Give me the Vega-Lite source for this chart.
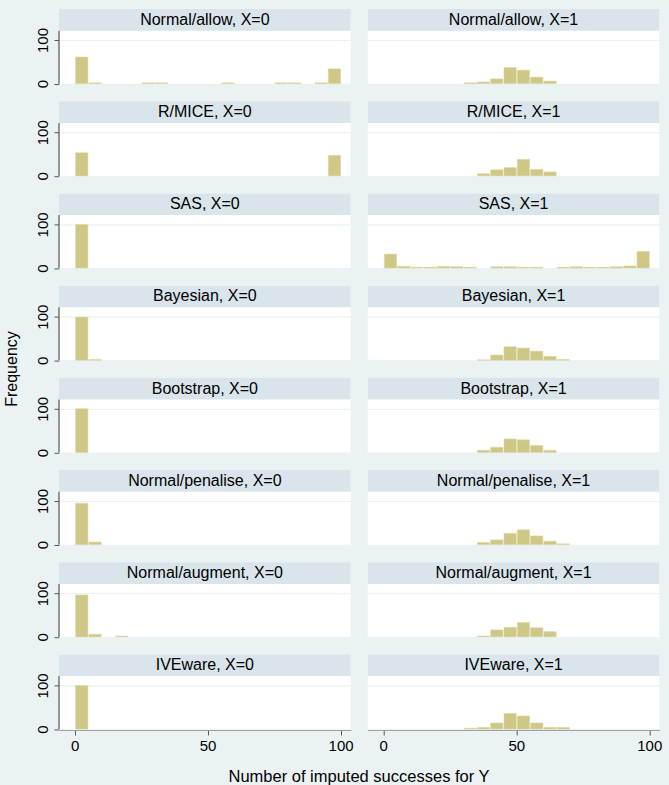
{
  "$schema": "https://vega.github.io/schema/vega-lite/v6.json",
  "background": "#EAF2F3",
  "padding": {"top": 9, "left": 3, "right": 9, "bottom": 5},
  "bounds": "flush",
  "config": {
    "view": {"fill": "white", "stroke": null},
    "font": "Liberation Sans"
  },
  "data": {"values": [
    {"kind":"panel","method":"Normal/allow","X":0,"label":"Normal/allow, X=0"},
    {"kind":"panel","method":"Normal/allow","X":1,"label":"Normal/allow, X=1"},
    {"kind":"panel","method":"R/MICE","X":0,"label":"R/MICE, X=0"},
    {"kind":"panel","method":"R/MICE","X":1,"label":"R/MICE, X=1"},
    {"kind":"panel","method":"SAS","X":0,"label":"SAS, X=0"},
    {"kind":"panel","method":"SAS","X":1,"label":"SAS, X=1"},
    {"kind":"panel","method":"Bayesian","X":0,"label":"Bayesian, X=0"},
    {"kind":"panel","method":"Bayesian","X":1,"label":"Bayesian, X=1"},
    {"kind":"panel","method":"Bootstrap","X":0,"label":"Bootstrap, X=0"},
    {"kind":"panel","method":"Bootstrap","X":1,"label":"Bootstrap, X=1"},
    {"kind":"panel","method":"Normal/penalise","X":0,"label":"Normal/penalise, X=0"},
    {"kind":"panel","method":"Normal/penalise","X":1,"label":"Normal/penalise, X=1"},
    {"kind":"panel","method":"Normal/augment","X":0,"label":"Normal/augment, X=0"},
    {"kind":"panel","method":"Normal/augment","X":1,"label":"Normal/augment, X=1"},
    {"kind":"panel","method":"IVEware","X":0,"label":"IVEware, X=0"},
    {"kind":"panel","method":"IVEware","X":1,"label":"IVEware, X=1"},

    {"kind":"bar","method":"Normal/allow","X":0,"b0":0,"b1":5,"n":61},
    {"kind":"bar","method":"Normal/allow","X":0,"b0":5,"b1":10,"n":2},
    {"kind":"bar","method":"Normal/allow","X":0,"b0":25,"b1":30,"n":2},
    {"kind":"bar","method":"Normal/allow","X":0,"b0":30,"b1":35,"n":2},
    {"kind":"bar","method":"Normal/allow","X":0,"b0":55,"b1":60,"n":2},
    {"kind":"bar","method":"Normal/allow","X":0,"b0":75,"b1":80,"n":2},
    {"kind":"bar","method":"Normal/allow","X":0,"b0":80,"b1":85,"n":2},
    {"kind":"bar","method":"Normal/allow","X":0,"b0":90,"b1":95,"n":2},
    {"kind":"bar","method":"Normal/allow","X":0,"b0":95,"b1":100,"n":34},
    {"kind":"bar","method":"Normal/allow","X":1,"b0":30,"b1":35,"n":2},
    {"kind":"bar","method":"Normal/allow","X":1,"b0":35,"b1":40,"n":4},
    {"kind":"bar","method":"Normal/allow","X":1,"b0":40,"b1":45,"n":11},
    {"kind":"bar","method":"Normal/allow","X":1,"b0":45,"b1":50,"n":37},
    {"kind":"bar","method":"Normal/allow","X":1,"b0":50,"b1":55,"n":31},
    {"kind":"bar","method":"Normal/allow","X":1,"b0":55,"b1":60,"n":15},
    {"kind":"bar","method":"Normal/allow","X":1,"b0":60,"b1":65,"n":6},

    {"kind":"bar","method":"R/MICE","X":0,"b0":0,"b1":5,"n":53},
    {"kind":"bar","method":"R/MICE","X":0,"b0":95,"b1":100,"n":47},
    {"kind":"bar","method":"R/MICE","X":1,"b0":35,"b1":40,"n":5},
    {"kind":"bar","method":"R/MICE","X":1,"b0":40,"b1":45,"n":14},
    {"kind":"bar","method":"R/MICE","X":1,"b0":45,"b1":50,"n":19},
    {"kind":"bar","method":"R/MICE","X":1,"b0":50,"b1":55,"n":38},
    {"kind":"bar","method":"R/MICE","X":1,"b0":55,"b1":60,"n":15},
    {"kind":"bar","method":"R/MICE","X":1,"b0":60,"b1":65,"n":9},

    {"kind":"bar","method":"SAS","X":0,"b0":0,"b1":5,"n":100},
    {"kind":"bar","method":"SAS","X":1,"b0":0,"b1":5,"n":32},
    {"kind":"bar","method":"SAS","X":1,"b0":5,"b1":10,"n":4},
    {"kind":"bar","method":"SAS","X":1,"b0":10,"b1":15,"n":2},
    {"kind":"bar","method":"SAS","X":1,"b0":15,"b1":20,"n":2},
    {"kind":"bar","method":"SAS","X":1,"b0":20,"b1":25,"n":4},
    {"kind":"bar","method":"SAS","X":1,"b0":25,"b1":30,"n":3},
    {"kind":"bar","method":"SAS","X":1,"b0":30,"b1":35,"n":2},
    {"kind":"bar","method":"SAS","X":1,"b0":40,"b1":45,"n":3},
    {"kind":"bar","method":"SAS","X":1,"b0":45,"b1":50,"n":3},
    {"kind":"bar","method":"SAS","X":1,"b0":50,"b1":55,"n":2},
    {"kind":"bar","method":"SAS","X":1,"b0":55,"b1":60,"n":2},
    {"kind":"bar","method":"SAS","X":1,"b0":65,"b1":70,"n":2},
    {"kind":"bar","method":"SAS","X":1,"b0":70,"b1":75,"n":3},
    {"kind":"bar","method":"SAS","X":1,"b0":75,"b1":80,"n":2},
    {"kind":"bar","method":"SAS","X":1,"b0":80,"b1":85,"n":2},
    {"kind":"bar","method":"SAS","X":1,"b0":85,"b1":90,"n":3},
    {"kind":"bar","method":"SAS","X":1,"b0":90,"b1":95,"n":5},
    {"kind":"bar","method":"SAS","X":1,"b0":95,"b1":100,"n":38},

    {"kind":"bar","method":"Bayesian","X":0,"b0":0,"b1":5,"n":99},
    {"kind":"bar","method":"Bayesian","X":0,"b0":5,"b1":10,"n":2},
    {"kind":"bar","method":"Bayesian","X":1,"b0":35,"b1":40,"n":1},
    {"kind":"bar","method":"Bayesian","X":1,"b0":40,"b1":45,"n":12},
    {"kind":"bar","method":"Bayesian","X":1,"b0":45,"b1":50,"n":31},
    {"kind":"bar","method":"Bayesian","X":1,"b0":50,"b1":55,"n":28},
    {"kind":"bar","method":"Bayesian","X":1,"b0":55,"b1":60,"n":21},
    {"kind":"bar","method":"Bayesian","X":1,"b0":60,"b1":65,"n":9},
    {"kind":"bar","method":"Bayesian","X":1,"b0":65,"b1":70,"n":2},

    {"kind":"bar","method":"Bootstrap","X":0,"b0":0,"b1":5,"n":100},
    {"kind":"bar","method":"Bootstrap","X":1,"b0":35,"b1":40,"n":5},
    {"kind":"bar","method":"Bootstrap","X":1,"b0":40,"b1":45,"n":12},
    {"kind":"bar","method":"Bootstrap","X":1,"b0":45,"b1":50,"n":31},
    {"kind":"bar","method":"Bootstrap","X":1,"b0":50,"b1":55,"n":29},
    {"kind":"bar","method":"Bootstrap","X":1,"b0":55,"b1":60,"n":16},
    {"kind":"bar","method":"Bootstrap","X":1,"b0":60,"b1":65,"n":5},

    {"kind":"bar","method":"Normal/penalise","X":0,"b0":0,"b1":5,"n":95},
    {"kind":"bar","method":"Normal/penalise","X":0,"b0":5,"b1":10,"n":6},
    {"kind":"bar","method":"Normal/penalise","X":1,"b0":35,"b1":40,"n":5},
    {"kind":"bar","method":"Normal/penalise","X":1,"b0":40,"b1":45,"n":11},
    {"kind":"bar","method":"Normal/penalise","X":1,"b0":45,"b1":50,"n":26},
    {"kind":"bar","method":"Normal/penalise","X":1,"b0":50,"b1":55,"n":34},
    {"kind":"bar","method":"Normal/penalise","X":1,"b0":55,"b1":60,"n":20},
    {"kind":"bar","method":"Normal/penalise","X":1,"b0":60,"b1":65,"n":8},
    {"kind":"bar","method":"Normal/penalise","X":1,"b0":65,"b1":70,"n":2},

    {"kind":"bar","method":"Normal/augment","X":0,"b0":0,"b1":5,"n":96},
    {"kind":"bar","method":"Normal/augment","X":0,"b0":5,"b1":10,"n":6},
    {"kind":"bar","method":"Normal/augment","X":0,"b0":15,"b1":20,"n":2},
    {"kind":"bar","method":"Normal/augment","X":1,"b0":35,"b1":40,"n":2},
    {"kind":"bar","method":"Normal/augment","X":1,"b0":40,"b1":45,"n":16},
    {"kind":"bar","method":"Normal/augment","X":1,"b0":45,"b1":50,"n":22},
    {"kind":"bar","method":"Normal/augment","X":1,"b0":50,"b1":55,"n":33},
    {"kind":"bar","method":"Normal/augment","X":1,"b0":55,"b1":60,"n":21},
    {"kind":"bar","method":"Normal/augment","X":1,"b0":60,"b1":65,"n":12},

    {"kind":"bar","method":"IVEware","X":0,"b0":0,"b1":5,"n":100},
    {"kind":"bar","method":"IVEware","X":1,"b0":30,"b1":35,"n":2},
    {"kind":"bar","method":"IVEware","X":1,"b0":35,"b1":40,"n":4},
    {"kind":"bar","method":"IVEware","X":1,"b0":40,"b1":45,"n":14},
    {"kind":"bar","method":"IVEware","X":1,"b0":45,"b1":50,"n":36},
    {"kind":"bar","method":"IVEware","X":1,"b0":50,"b1":55,"n":30},
    {"kind":"bar","method":"IVEware","X":1,"b0":55,"b1":60,"n":14},
    {"kind":"bar","method":"IVEware","X":1,"b0":60,"b1":65,"n":4},
    {"kind":"bar","method":"IVEware","X":1,"b0":65,"b1":70,"n":4}
  ]},
  "facet": {
    "row": {
      "field": "method", "type": "nominal",
      "sort": ["Normal/allow","R/MICE","SAS","Bayesian","Bootstrap","Normal/penalise","Normal/augment","IVEware"],
      "header": {"labels": false, "title": "Frequency", "titleFont": "Liberation Sans", "titleFontSize": 16, "titleFontWeight": "normal", "titleColor": "black", "titlePadding": 5}
    },
    "column": {
      "field": "X", "type": "ordinal",
      "header": {"labels": false, "title": "Number of imputed successes for Y", "titleOrient": "bottom", "titleFont": "Liberation Sans", "titleFontSize": 16.5, "titleFontWeight": "normal", "titleColor": "black", "titlePadding": 6}
    }
  },
  "spacing": {"row": 17.2, "column": 16.7},
  "spec": {
    "width": 291.7,
    "height": 74.7,
    "layer": [
      {
        "transform": [{"filter": "datum.kind == 'bar'"}],
        "mark": {"type": "bar", "fill": "#CEC785", "stroke": "#DED9AA", "strokeWidth": 0.6},
        "encoding": {
          "x": {"field": "b0", "type": "quantitative", "bin": {"binned": true, "step": 5},
                "scale": {"domain": [-5.86, 103.8], "nice": false, "zero": false},
                "axis": {"values": [0, 50, 100], "title": null, "grid": false, "labelFontSize": 15, "labelColor": "black", "labelPadding": 3, "tickSize": 5, "tickColor": "#555555", "domainColor": "#555555", "domainWidth": 1.2, "labelFlush": false}},
          "x2": {"field": "b1"},
          "y": {"field": "n", "type": "quantitative",
                "scale": {"domain": [0, 171], "nice": false},
                "axis": {"values": [0, 100], "title": null, "domain": false, "grid": true, "gridColor": "#EAF2F3", "gridWidth": 1.2, "labelAngle": -90, "labelAlign": "center", "labelBaseline": "bottom", "labelFontSize": 15, "labelColor": "black", "labelPadding": 4, "tickSize": 5, "tickColor": "#555555"}}
        }
      },
      {
        "transform": [{"filter": "datum.kind == 'panel'"}],
        "mark": {"type": "rect", "fill": "#D9E5EA"},
        "encoding": {
          "x": {"datum": -5.86, "type": "quantitative", "title": null},
          "x2": {"datum": 103.8},
          "y": {"datum": 121.3, "type": "quantitative", "title": null},
          "y2": {"datum": 171}
        }
      },
      {
        "transform": [{"filter": "datum.kind == 'panel' && datum.X == 0"}],
        "mark": {"type": "rule", "color": "#555555", "strokeWidth": 1.2},
        "encoding": {
          "x": {"datum": -5.86, "type": "quantitative", "title": null},
          "y": {"datum": 0, "type": "quantitative", "title": null},
          "y2": {"datum": 121.3}
        }
      },
      {
        "transform": [{"filter": "datum.kind == 'panel'"}],
        "mark": {"type": "text", "font": "Liberation Sans", "fontSize": 16, "color": "black", "baseline": "middle"},
        "encoding": {
          "x": {"datum": 48.97, "type": "quantitative", "title": null},
          "y": {"datum": 146.5, "type": "quantitative", "title": null},
          "text": {"field": "label"}
        }
      }
    ]
  }
}
